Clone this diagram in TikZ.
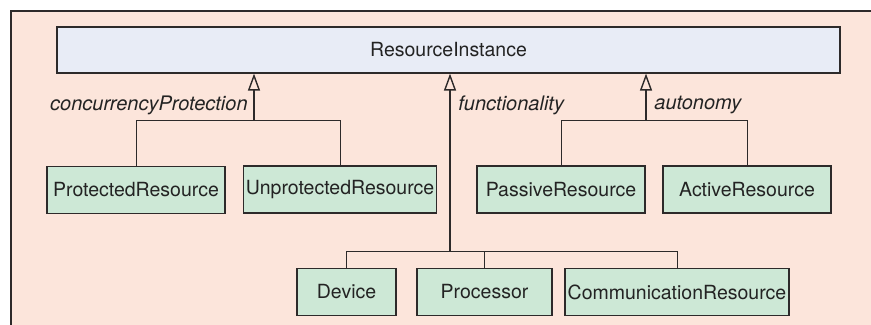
\documentclass[tikz,border=0pt]{standalone}
\usepackage{fontspec}
\setmainfont{TeX Gyre Heros}
\usetikzlibrary{positioning,arrows.meta}
\definecolor{panelbg}{RGB}{252,229,219}
\definecolor{rootfill}{RGB}{232,236,246}
\definecolor{leaffill}{RGB}{205,232,214}
\definecolor{boxline}{RGB}{45,42,42}
\definecolor{inktext}{RGB}{35,35,35}
\tikzset{
  rootbox/.style={draw=boxline, line width=0.6pt, fill=rootfill,
    minimum width=391.5pt, minimum height=23pt},
  leafbox/.style={draw=boxline, line width=0.55pt, fill=leaffill,
    minimum height=23.5pt, inner sep=1pt, minimum width=#1},
  genline/.style={draw=boxline, line width=0.9pt,
    -{Triangle[open,length=8.5pt,width=6pt,line width=0.7pt]}},
  branch/.style={draw=boxline, line width=0.5pt},
  role/.style={font=\itshape, inner sep=1pt}
}

\begin{document}
\begin{tikzpicture}[x=0.5pt,y=-0.5pt,font=\fontsize{9.75}{12}\selectfont,text=inktext]
    \useasboundingbox (0,0) rectangle (871,325);
    % background panel, only left and top edges are ruled
    \fill[panelbg] (11,11) rectangle (872,326);
    \draw[boxline, line width=0.7pt] (11,326) -- (11,11) -- (872,11);
    % the common parent
    \node[rootbox] (ri) at (448.5,50) {ResourceInstance};
    % joints where the branches meet
    \coordinate (cp) at (254,121);
    \coordinate (fn) at (450,252);
    \coordinate (au) at (646,121);
    % the specialised resources
    \node[leafbox=89pt] (prot) at (136,190) {ProtectedResource};
    \node[leafbox=96pt] (unprot) at (340,189.5) {UnprotectedResource};
    \node[leafbox=84pt] (passive) at (561,189.5) {PassiveResource};
    \node[leafbox=84pt] (active) at (747,189.5) {ActiveResource};
    \node[leafbox=49.5pt] (device) at (346.5,292) {Device};
    \node[leafbox=67.5pt] (proc) at (484.5,292) {Processor};
    \node[leafbox=112pt] (comm) at (677,292) {CommunicationResource};
    % generalisation arrows up to the parent
    \foreach \j in {cp,fn,au} \draw[genline] (\j) -- (\j |- ri.south);
    % branches down to each child
    \foreach \c in {prot,unprot} \draw[branch] (\c.north) |- (cp);
    \foreach \c in {passive,active} \draw[branch] (\c.north) |- (au);
    \foreach \c in {device,proc,comm} \draw[branch] (\c.north) |- (fn);
    % role names next to the arrows
    \coordinate (cpLab) at (254,105);
    \coordinate (fnLab) at (450,105);
    \coordinate (auLab) at (646,105);
    \node[role, left=2pt of cpLab] (cpName) {concurrencyProtection};
    \node[role, right=3pt of fnLab] (fnName) {functionality};
    \node[role, right=3pt of auLab] (auName) {autonomy};
\end{tikzpicture}
\end{document}
